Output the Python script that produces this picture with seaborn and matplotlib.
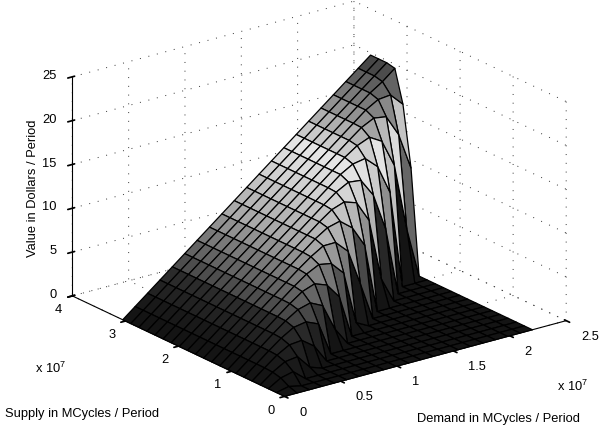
import numpy as np
import matplotlib
matplotlib.use("Agg")
import matplotlib.pyplot as plt
import seaborn as sns
from matplotlib.colors import LinearSegmentedColormap

# demand and supply grid, MCycles / period
demand = [0.0, 1.1e6, 2.2e6, 3.3e6, 4.4e6, 5.5e6, 6.6e6, 7.7e6, 8.8e6, 9.9e6, 1.1e7,
          1.21e7, 1.32e7, 1.43e7, 1.54e7, 1.65e7, 1.76e7, 1.87e7, 1.98e7, 2.09e7, 2.2e7]
supply = [0.0, 1.525e6, 3.05e6, 4.575e6, 6.1e6, 7.625e6, 9.15e6, 1.0675e7, 1.22e7, 1.3725e7, 1.525e7,
          1.6775e7, 1.83e7, 1.9825e7, 2.135e7, 2.2875e7, 2.44e7, 2.5925e7, 2.745e7, 2.8975e7, 3.05e7]

# value, one row per demand step, one column per supply step
value = [
    [0, 0, 0, 0, 0, 0, 0, 0, 0, 0, 0, 0, 0, 0, 0, 0, 0, 0, 0, 0, 0],
    [0, 0.31, 0.84, 1.06, 1.12, 1.13, 1.13, 1.13, 1.13, 1.13, 1.13, 1.13, 1.13, 1.13, 1.13, 1.13, 1.13, 1.13, 1.13, 1.13, 1.13],
    [0, 0, 1.18, 1.88, 2.19, 2.26, 2.26, 2.26, 2.26, 2.26, 2.26, 2.26, 2.26, 2.26, 2.26, 2.26, 2.26, 2.26, 2.26, 2.26, 2.26],
    [0, 0, 0, 2.07, 2.98, 3.32, 3.39, 3.39, 3.39, 3.39, 3.39, 3.39, 3.39, 3.39, 3.39, 3.39, 3.39, 3.39, 3.39, 3.39, 3.39],
    [0, 0, 0, 0.5, 3.12, 4.16, 4.47, 4.52, 4.52, 4.52, 4.52, 4.52, 4.52, 4.52, 4.52, 4.52, 4.52, 4.52, 4.52, 4.52, 4.52],
    [0, 0, 0, 0, 2.09, 4.41, 5.37, 5.62, 5.65, 5.65, 5.65, 5.65, 5.65, 5.65, 5.65, 5.65, 5.65, 5.65, 5.65, 5.65, 5.65],
    [0, 0, 0, 0, 0, 3.8, 5.76, 6.61, 6.78, 6.78, 6.78, 6.78, 6.78, 6.78, 6.78, 6.78, 6.78, 6.78, 6.78, 6.78, 6.78],
    [0, 0, 0, 0, 0, 0, 5.06, 7.12, 7.79, 7.91, 7.91, 7.91, 7.91, 7.91, 7.91, 7.91, 7.91, 7.91, 7.91, 7.91, 7.91],
    [0, 0, 0, 0, 0, 0, 1.99, 6.6, 8.5, 8.95, 9.04, 9.04, 9.04, 9.04, 9.04, 9.04, 9.04, 9.04, 9.04, 9.04, 9.04],
    [0, 0, 0, 0, 0, 0, 0, 4.88, 8.24, 9.81, 10.17, 10.17, 10.17, 10.17, 10.17, 10.17, 10.17, 10.17, 10.17, 10.17, 10.17],
    [0, 0, 0, 0, 0, 0, 0, 0, 6.78, 9.83, 11.07, 11.3, 11.3, 11.3, 11.3, 11.3, 11.3, 11.3, 11.3, 11.3, 11.3],
    [0, 0, 0, 0, 0, 0, 0, 0, 0.75, 8.45, 11.44, 12.31, 12.43, 12.43, 12.43, 12.43, 12.43, 12.43, 12.43, 12.43, 12.43],
    [0, 0, 0, 0, 0, 0, 0, 0, 0, 4.34, 10.31, 12.81, 13.49, 13.56, 13.56, 13.56, 13.56, 13.56, 13.56, 13.56, 13.56],
    [0, 0, 0, 0, 0, 0, 0, 0, 0, 0, 7.93, 12.34, 14.25, 14.69, 14.69, 14.69, 14.69, 14.69, 14.69, 14.69, 14.69],
    [0, 0, 0, 0, 0, 0, 0, 0, 0, 0, 0, 9.97, 14.08, 15.5, 15.82, 15.82, 15.82, 15.82, 15.82, 15.82, 15.82],
    [0, 0, 0, 0, 0, 0, 0, 0, 0, 0, 0, 2.88, 12.03, 15.76, 16.78, 16.95, 16.95, 16.95, 16.95, 16.95, 16.95],
    [0, 0, 0, 0, 0, 0, 0, 0, 0, 0, 0, 0, 7.77, 14.46, 17.36, 18.03, 18.08, 18.08, 18.08, 18.08, 18.08],
    [0, 0, 0, 0, 0, 0, 0, 0, 0, 0, 0, 0, 0, 11.14, 16.52, 18.73, 19.21, 19.21, 19.21, 19.21, 19.21],
    [0, 0, 0, 0, 0, 0, 0, 0, 0, 0, 0, 0, 0, 0, 13.42, 18.51, 20.03, 20.34, 20.34, 20.34, 20.34],
    [0, 0, 0, 0, 0, 0, 0, 0, 0, 0, 0, 0, 0, 0, 5.8, 16.1, 20.18, 21.25, 21.47, 21.47, 21.47],
    [0, 0, 0, 0, 0, 0, 0, 0, 0, 0, 0, 0, 0, 0, 0, 11.9, 18.75, 22.4, 22.6, 22.6, 22.6],
]

# grey level against value, as seen on the plateau rows
tone_values = [0, 1.13, 3.4, 4.5, 6.8, 9, 11.3, 12.4, 14.7, 15.8, 17, 18, 19.2, 20.3, 21.5, 22.6]
tone_levels = [0.08, 0.1, 0.17, 0.3, 0.48, 0.66, 0.76, 0.82, 0.9, 0.8, 0.68, 0.58, 0.48, 0.38, 0.28, 0.22]

demand_ticks = [0, 0.5e7, 1e7, 1.5e7, 2e7, 2.5e7]
demand_labels = ["0", "0.5", "1", "1.5", "2", "2.5"]
supply_ticks = [0, 1e7, 2e7, 3e7, 4e7]
supply_labels = ["0", "1", "2", "3", "4"]
value_ticks = [0, 5, 10, 15, 20, 25]

sns.set_theme(style="white", rc={"grid.linestyle": (0, (1, 8)), "grid.linewidth": 0.7, "grid.color": "#333333",
                                 "xtick.color": "black", "ytick.color": "black", "text.color": "black",
                                 "axes.labelcolor": "black", "mathtext.default": "regular"})
plt.rcParams["font.family"] = ["Liberation Sans", "DejaVu Sans"]

fig = plt.figure(figsize=(5.99, 4.28), dpi=100)
# square axes centred on the middle of the box
side = 500
cx, cy = 312.5, 205.5
ax = fig.add_axes([(cx - side / 2) / 599, 1 - (cy + side / 2) / 428, side / 599, side / 428],
                  projection="3d", proj_type="ortho", elev=20.9, azim=-127)
ax.set_box_aspect((1, 1, 0.665), zoom=1.07)
ax.patch.set_alpha(0)

X, Y = np.meshgrid(supply, demand)
Z = np.array(value, dtype=float)
cmap = LinearSegmentedColormap.from_list(
    "tones", [(v / 22.6, (g, g, g)) for v, g in zip(tone_values, tone_levels)])
ax.plot_surface(Y, X, Z, rstride=1, cstride=1, facecolors=cmap(Z / 22.6), shade=False,
                edgecolor="black", linewidth=0.9, antialiased=True)

ax.set_xlim(0, 2.5e7, view_margin=0)
ax.set_ylim(0, 4e7, view_margin=0)
ax.set_zlim(0, 25, view_margin=0)
ax.set_xticks(demand_ticks, demand_labels)
ax.set_yticks(supply_ticks, supply_labels)
ax.set_zticks(value_ticks)
ax.tick_params(labelsize=9.3)
ax.tick_params(axis="x", pad=5)
ax.tick_params(axis="y", pad=1)
ax.tick_params(axis="z", pad=-2)
ax.grid(True)
for axis in (ax.xaxis, ax.yaxis, ax.zaxis):
    axis.set_pane_color((1, 1, 1, 0))
    axis.pane.set_edgecolor("none")
    axis.line.set_color("black")
    axis.line.set_linewidth(0.8)

# tick labels sit beside the ticks in the original, so align them by hand
for lab in ax.get_xticklabels():
    lab.set_ha("left")
    lab.set_va("bottom")
for lab in ax.get_yticklabels():
    lab.set_va("center")
for lab in ax.get_zticklabels():
    lab.set_ha("right")
    lab.set_va("center")

fig.text(33 / 599, 1 - 188 / 428, "Value in Dollars / Period", rotation=90, ha="center", va="center", fontsize=9.3)
fig.text(5 / 599, 1 - 414 / 428, "Supply in MCycles / Period", ha="left", va="center", fontsize=9.3)
fig.text(417 / 599, 1 - 419 / 428, "Demand in MCycles / Period", ha="left", va="center", fontsize=9.3)
fig.text(35 / 599, 1 - 368 / 428, "x 10$^{7}$", ha="left", va="center", fontsize=9.3)
fig.text(557 / 599, 1 - 386 / 428, "x 10$^{7}$", ha="left", va="center", fontsize=9.3)

fig.savefig("out.png", dpi=100)
